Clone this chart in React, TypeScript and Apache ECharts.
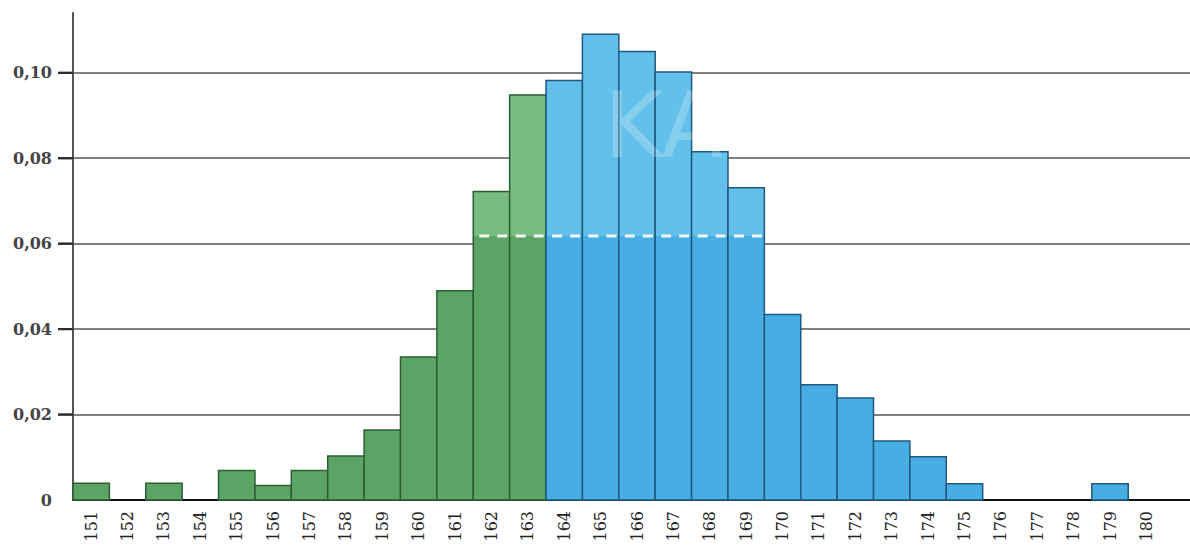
import React, { useEffect, useRef } from "react";
import * as echarts from "echarts";

const categories: string[] = [
  "151", "152", "153", "154", "155", "156", "157", "158", "159", "160",
  "161", "162", "163", "164", "165", "166", "167", "168", "169", "170",
  "171", "172", "173", "174", "175", "176", "177", "178", "179", "180", "",
];
const frequencies: number[] = [
  0.0039, 0, 0.0039, 0, 0.0069, 0.0034, 0.0069, 0.0103, 0.0164, 0.0335,
  0.049, 0.0722, 0.0948, 0.0982, 0.109, 0.105, 0.1002, 0.0815, 0.0731, 0.0434,
  0.027, 0.0239, 0.0138, 0.0101, 0.0038, 0, 0, 0, 0.0038, 0,
];
const yTickValues: number[] = [0.02, 0.04, 0.06, 0.08, 0.1];
const dashedLevel = 0.0618;
const firstBlue = 164;

const GREEN = { base: "#5ba465", light: "#79bc81", border: "#2b5e33" };
const BLUE = { base: "#48ade3", light: "#63c0ea", border: "#1d5a80" };

export default function App() {
  const ref = useRef<HTMLDivElement>(null);
  useEffect(() => {
    if (!ref.current) return;
    const chart = echarts.init(ref.current, undefined, { renderer: "svg" });
    const data = frequencies.map((v, i) => [i, v]);
    chart.setOption({
      animation: false,
      backgroundColor: "#ffffff",
      grid: { left: 73, top: 13, width: 1128, height: 487 },
      xAxis: {
        type: "category",
        data: categories,
        boundaryGap: true,
        axisLine: { show: true, lineStyle: { color: "#111", width: 2 } },
        axisTick: { show: false },
        axisLabel: {
          rotate: 90,
          interval: 0,
          margin: 11,
          fontFamily: "DejaVu Serif",
          fontSize: 16,
          color: "#222",
        },
        splitLine: { show: false },
      },
      yAxis: {
        type: "value",
        min: 0,
        max: 0.114,
        interval: 0.02,
        axisLine: { show: true, lineStyle: { color: "#555", width: 2 } },
        axisTick: { show: false },
        axisLabel: {
          margin: 21,
          fontFamily: "DejaVu Serif",
          fontWeight: "bold",
          fontSize: 16,
          color: "#444",
          formatter: (v: number) =>
            v > 0.105 ? "" : v === 0 ? "0" : v.toFixed(2).replace(".", ","),
        },
        splitLine: {
          show: true,
          showMaxLine: false,
          lineStyle: { color: "#555", width: 1.5 },
        },
      },
      series: [
        {
          type: "custom",
          data,
          clip: false,
          encode: { x: 0, y: 1 },
          renderItem: (params: any, api: any) => {
            const idx = api.value(0);
            const v = api.value(1);
            const bottom = api.coord([idx, 0]);
            const w = api.size([1, 0])[0];
            const x0 = bottom[0] - w / 2;
            const children: any[] = [];
            if (params.dataIndex === 0) {
              yTickValues.forEach((t) => {
                const p = api.coord([idx, t]);
                children.push({
                  type: "rect",
                  shape: { x: x0 - 15, y: p[1] - 1, width: 15, height: 2 },
                  style: { fill: "#2a2a2a" },
                });
              });
            }
            if (!(v > 0)) return { type: "group", children };
            const cat = Number(categories[idx]);
            const col = cat >= firstBlue ? BLUE : GREEN;
            const top = api.coord([idx, v]);
            const lvl = api.coord([idx, dashedLevel]);
            const baseTop = v > dashedLevel ? lvl[1] : top[1];
            children.push({
              type: "rect",
              shape: { x: x0, y: baseTop, width: w, height: bottom[1] - baseTop },
              style: { fill: col.base },
            });
            if (v > dashedLevel) {
              children.push({
                type: "rect",
                shape: { x: x0, y: top[1], width: w, height: lvl[1] - top[1] },
                style: { fill: col.light },
              });
            }
            children.push({
              type: "rect",
              shape: { x: x0, y: top[1], width: w, height: bottom[1] - top[1] },
              style: { fill: "none", stroke: col.border, lineWidth: 1.5 },
            });
            if (v > dashedLevel) {
              children.push({
                type: "line",
                shape: { x1: x0 + 6, y1: lvl[1], x2: x0 + w, y2: lvl[1] },
                style: { stroke: "#ffffff", lineWidth: 3, lineDash: [10, 8], opacity: 0.9 },
              });
            }
            return { type: "group", children };
          },
          z: 3,
        },
      ],
    });

    const p0 = chart.convertToPixel({ gridIndex: 0 }, [0, 0]) as number[];
    const p1 = chart.convertToPixel({ gridIndex: 0 }, [1, 0]) as number[];
    const axisX = p0[0] - (p1[0] - p0[0]) / 2;
    const tickGraphics = yTickValues.map((v) => {
      const y = (chart.convertToPixel({ gridIndex: 0 }, [0, v]) as number[])[1];
      return {
        type: "rect",
        z: 50,
        shape: { x: axisX - 15, y: y - 1, width: 15, height: 2 },
        style: { fill: "#2a2a2a" },
      };
    });
    chart.setOption({
      graphic: [
        ...tickGraphics,
        {
          type: "text",
          left: 604,
          top: 80,
          z: 100,
          style: {
            text: "KA",
            fontFamily: "DejaVu Sans",
            fontSize: 90,
            fill: "#ffffff",
            opacity: 0.22,
          },
        },
      ],
    });
    return () => chart.dispose();
  }, []);
  return (
    <div style={{ position: "absolute", left: 0, top: 0, width: 1190, height: 547, overflow: "hidden" }}>
      <div ref={ref} style={{ width: 1201, height: 547 }} />
    </div>
  );
}
